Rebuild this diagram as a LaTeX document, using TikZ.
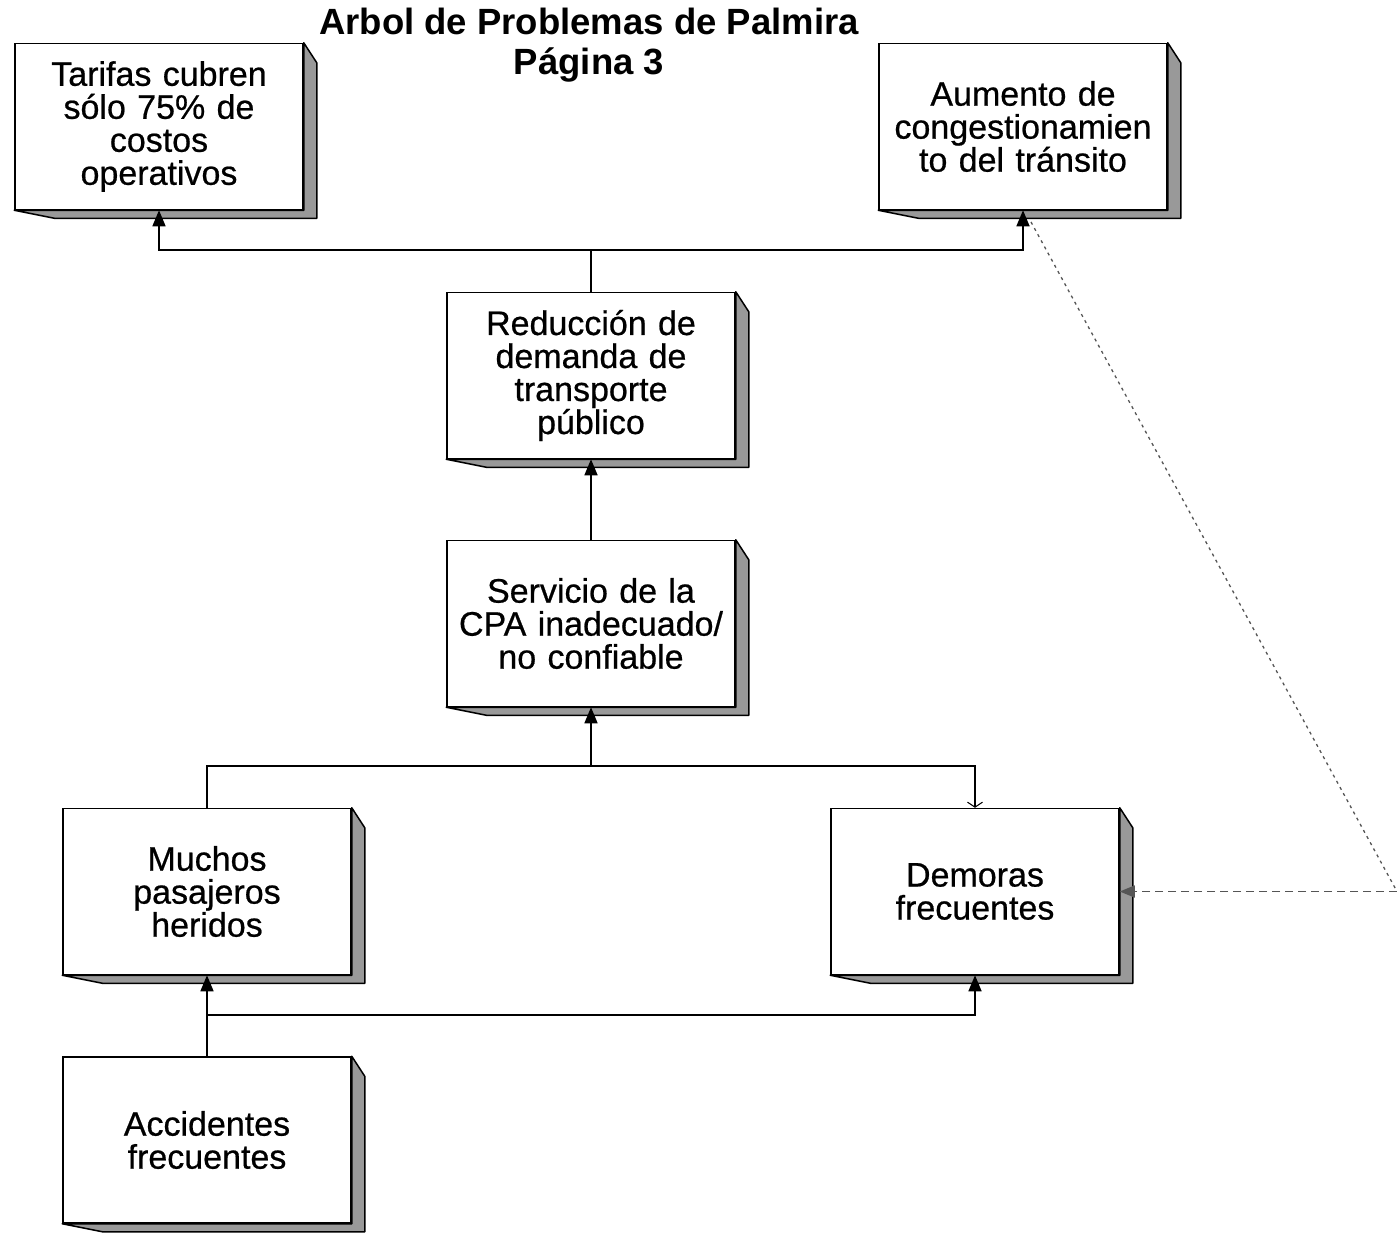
\documentclass[tikz,border=0pt]{standalone}
\usepackage{fontspec}
\setmainfont{Liberation Sans}
\newfontfamily\cajafont[FakeBold=0.6]{Liberation Sans}
\usepackage{xcolor}
\usetikzlibrary{arrows.meta,calc}

\definecolor{sombra}{HTML}{999999}
\definecolor{trazo}{HTML}{555555}

\tikzset{
	problema/.style={draw,line width=1.5pt,fill=white,text width=270pt,inner sep=9pt,
		minimum height=166pt,align=center,font=\cajafont\fontsize{34}{33}\selectfont},
	flecha/.style={line width=1.5pt,-{Triangle[width=13pt,length=16pt]}},
	abierta/.style={line width=1.5pt,-{Straight Barb[width=15pt,length=5pt,line width=1pt]}},
	punteada/.style={trazo,line width=1.3pt,dash pattern=on 3pt off 4pt},
	rayada/.style={trazo,line width=1.5pt,dash pattern=on 8pt off 5pt,-{Triangle[width=12pt,length=15pt]}}
}

\begin{document}
\begin{tikzpicture}[x=1pt,y=-1pt]
		\useasboundingbox (0,0) rectangle (1397,1236);
		\node[align=center,font=\bfseries\fontsize{36.5}{40}\selectfont] (titulo) at (589,45) {Arbol de Problemas de Palmira\\Página 3};
		\node[problema] (tarifas) at (159,126.5) {Tarifas cubren\\sólo 75\% de\\costos\\operativos};
		\node[problema] (aumento) at (1023,126.5) {Aumento de\\congestionamien\\to del tránsito};
		\node[problema] (reduccion) at (591,375.5) {Reducción de\\demanda de\\transporte\\público};
		\node[problema] (servicio) at (591,623.5) {Servicio de la\\CPA inadecuado/\\no confiable};
		\node[problema] (muchos) at (207,891.5) {Muchos\\pasajeros\\heridos};
		\node[problema] (demoras) at (975,891.5) {Demoras\\frecuentes};
		\node[problema] (accidentes) at (207,1140) {Accidentes\\frecuentes};
		\foreach \n in {tarifas,aumento,reduccion,servicio,muchos,demoras,accidentes}
			\filldraw[fill=sombra,line width=1.5pt,line join=round] (\n.north east) -- ++(13,20) -- ($(\n.south east)+(13,8)$)
				-- ($(\n.south west)+(40,8)$) -- (\n.south west) -- (\n.south east) -- cycle;
		\draw[flecha] (reduccion.north) -- ++(0,-42) -| (tarifas.south);
		\draw[flecha] (reduccion.north) -- ++(0,-42) -| (aumento.south);
		\draw[flecha] (servicio.north) -- (reduccion.south);
		\coordinate (nudo) at (591,766);
		\draw[line width=1.5pt] (muchos.north) |- (nudo);
		\draw[flecha] (nudo) -- (servicio.south);
		\draw[abierta] (nudo) -| (demoras.north);
		\coordinate (nudo2) at (207,1015);
		\draw[flecha] (accidentes.north) -- (muchos.south);
		\draw[flecha] (nudo2) -| (demoras.south);
		\coordinate (inicio) at (1031,222);
		\coordinate (esquina) at (1397,891.5);
		\draw[punteada] (inicio) -- (esquina);
		\draw[rayada] (esquina) -- (demoras.east);
\end{tikzpicture}
\end{document}
